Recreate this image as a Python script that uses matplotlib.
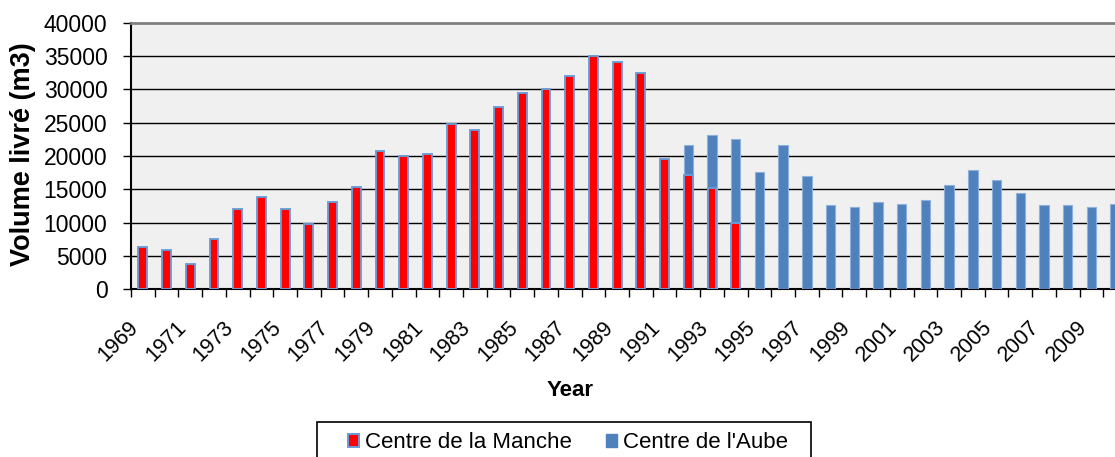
import matplotlib
matplotlib.use("Agg")
import matplotlib.pyplot as plt
import matplotlib.transforms as mtransforms
from matplotlib.patches import Rectangle, Patch

plt.rcParams["font.family"] = ["Liberation Sans", "DejaVu Sans"]

# data
years = list(range(1969, 2011))
manche_years = list(range(1969, 1995))
manche = [6300, 5800, 3800, 7500, 12000, 13900, 12000, 9700, 13100, 15300,
          20800, 20000, 20300, 24800, 23900, 27300, 29400, 30000, 32000, 35000,
          34200, 32500, 19600, 17100, 15200, 9900]
aube_years = list(range(1992, 2011))
aube = [21700, 23100, 22600, 17600, 21700, 17000, 12600, 12300, 13100, 12800,
        13400, 15600, 17900, 16400, 14500, 12600, 12600, 12300, 12800]
yticks = list(range(0, 40001, 5000))

W, H = 1115, 457
fig = plt.figure(figsize=(W / 100, H / 100), dpi=100)

# plot area in pixels: left 131, right 1127 (beyond the picture), top 23, bottom 289
x0, x1, y0, y1 = 131, 1127, 23, 289
ax = fig.add_axes([x0 / W, 1 - y1 / H, (x1 - x0) / W, (y1 - y0) / H])
ax.set_facecolor("#f0f0f0")

idx = {y: i for i, y in enumerate(years)}
ax.bar([idx[y] for y in aube_years], aube, width=0.40, color="#4f81bd",
       edgecolor="#8db0dc", linewidth=0.8, zorder=3, label="Centre de l'Aube")
ax.bar([idx[y] for y in manche_years], manche, width=0.375, color="#ff0000",
       edgecolor="#6a9bd8", linewidth=1.35, zorder=4, label="Centre de la Manche")

ax.set_xlim(-0.5, len(years) - 0.5)
ax.set_ylim(0, 40000)

for v in yticks[1:-1]:
    ax.axhline(v, color="black", linewidth=1.0, zorder=2)

ax.set_yticks(yticks)
ax.set_yticklabels([str(v) for v in yticks], fontsize=16.5)
ax.tick_params(axis="y", length=6, width=1.0, direction="out", pad=11)

ax.set_xticks(range(0, len(years), 2))
ax.set_xticklabels([str(y) for y in years[::2]], rotation=45, ha="right",
                   va="top", fontsize=15.5)
shift = mtransforms.ScaledTranslation(5 / 100, 0, fig.dpi_scale_trans)
for lab in ax.get_xticklabels():
    lab.set_transform(lab.get_transform() + shift)
ax.set_xticks([i - 0.5 for i in range(len(years) + 1)], minor=True)
ax.tick_params(axis="x", which="major", length=0, pad=20)
ax.tick_params(axis="x", which="minor", length=6, width=1.0, direction="out")

for s in ("left", "bottom"):
    ax.spines[s].set_color("black")
    ax.spines[s].set_linewidth(1.5)
ax.spines["top"].set_color("#808080")
ax.spines["top"].set_linewidth(2)
ax.spines["right"].set_visible(False)

fig.text(23 / W, 1 - 154 / H, "Volume livré (m3)", rotation=90, ha="center",
         va="center", fontsize=19.5, fontweight="bold")
fig.text(570 / W, 1 - 391 / H, "Year", ha="center", va="center",
         fontsize=16, fontweight="bold")

# legend box, cut by the bottom of the picture
fig.patches.append(Rectangle((317 / W, -0.05), (811 - 317) / W, 0.05 + 1 - 422 / H,
                             transform=fig.transFigure, facecolor="white",
                             edgecolor="black", linewidth=1.2))
handles = [Patch(facecolor="#ff0000", edgecolor="#6a9bd8", linewidth=1.4),
           Patch(facecolor="#4f81bd", edgecolor="#4f81bd")]
fig.legend(handles, ["Centre de la Manche", "Centre de l'Aube"],
           loc="center", bbox_to_anchor=(568 / W, 1 - 443 / H), ncol=2,
           frameon=False, fontsize=16, handlelength=0.5, handleheight=0.5,
           handletextpad=0.3, columnspacing=1.5, borderpad=0)

fig.savefig("out.png", dpi=100)
